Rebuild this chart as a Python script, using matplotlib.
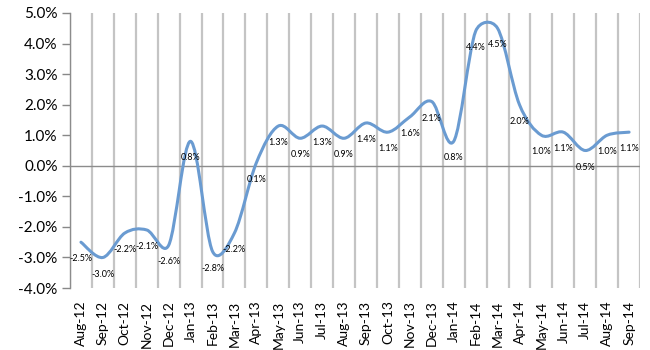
import numpy as np
import matplotlib
matplotlib.use("Agg")
import matplotlib.pyplot as plt
from matplotlib.path import Path
from matplotlib.patches import PathPatch

plt.rcParams['font.family'] = ['Lato', 'DejaVu Sans']

months = ["Aug-12", "Sep-12", "Oct-12", "Nov-12", "Dec-12", "Jan-13", "Feb-13",
          "Mar-13", "Apr-13", "May-13", "Jun-13", "Jul-13", "Aug-13", "Sep-13",
          "Oct-13", "Nov-13", "Dec-13", "Jan-14", "Feb-14", "Mar-14", "Apr-14",
          "May-14", "Jun-14", "Jul-14", "Aug-14", "Sep-14"]
values = [-2.5, -3.0, -2.2, -2.1, -2.6, 0.8, -2.8, -2.2, 0.1, 1.3, 0.9, 1.3, 0.9,
          1.4, 1.1, 1.6, 2.1, 0.8, 4.4, 4.5, 2.0, 1.0, 1.1, 0.5, 1.0, 1.1]

x = np.arange(len(months))
y = np.array(values)

fig = plt.figure(figsize=(6.5, 3.5), dpi=100)
ax = fig.add_axes([0.1077, 0.177, 0.877, 0.786])
ax.set_xlim(-0.5, len(months) - 0.5)
ax.set_ylim(-4, 5)


def ctrl_offset(t, seg):
    # excel-style: tangent/6, but never longer than half the segment
    L = np.linalg.norm(t)
    if L == 0:
        return t
    d = min(L / 6, seg / 2)
    return t / L * d


# smoothed line in screen space
pts = ax.transData.transform(np.column_stack([x, y]))
n = len(pts)
verts = [pts[0]]
codes = [Path.MOVETO]
for i in range(n - 1):
    p0, p1, p2, p3 = pts[max(i - 1, 0)], pts[i], pts[i + 1], pts[min(i + 2, n - 1)]
    seg = np.linalg.norm(p2 - p1)
    c1 = p1 + ctrl_offset(p2 - p0, seg)
    c2 = p2 - ctrl_offset(p3 - p1, seg)
    verts += [c1, c2, p2]
    codes += [Path.CURVE4] * 3
verts = ax.transData.inverted().transform(np.array(verts))
ax.add_patch(PathPatch(Path(verts, codes), fill=False, edgecolor='#6A9BD1',
                       linewidth=2.2, capstyle='round', joinstyle='round', zorder=3))

for xi, yi in zip(x, y):
    ax.annotate(f"{yi:.1f}%", (xi, yi), xytext=(0, -12), textcoords='offset points',
                ha='center', va='center', fontsize=6.5, color='black', zorder=4)

ax.set_yticks(np.arange(-4, 6, 1))
ax.set_yticklabels([f"{v:.1f}%" for v in np.arange(-4, 6, 1)], fontsize=11)
ax.set_xticks(x)
ax.set_xticklabels(months, rotation=90, fontsize=10)
ax.tick_params(axis='x', length=0, pad=9)
ax.tick_params(axis='y', length=6, width=1, color='#888888', pad=3)

ax.set_xticks(np.arange(-0.5, len(months), 1), minor=True)
ax.tick_params(axis='x', which='minor', length=0)
ax.grid(True, which='minor', axis='x', color='#C4C4C4', linewidth=1.6)
ax.axhline(0, color='#8C8C8C', linewidth=1.0, zorder=2)

for s in ['top', 'right', 'bottom']:
    ax.spines[s].set_visible(False)
ax.spines['left'].set_color('#8C8C8C')
ax.spines['left'].set_linewidth(1.0)

fig.savefig("out.png", dpi=100)
